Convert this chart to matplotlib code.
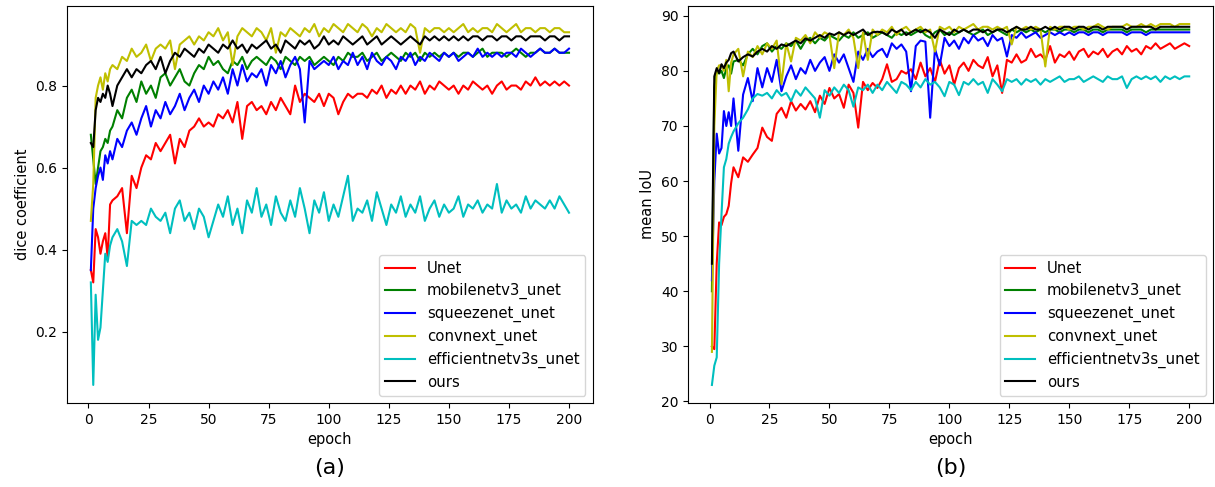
import matplotlib
matplotlib.use("Agg")
import matplotlib.pyplot as plt

# epochs sampled (every epoch at the start, then every second epoch)
epochs = [1, 2, 3, 4, 5, 6, 7, 8, 9, 10] + list(range(12, 201, 2))

names = ["Unet", "mobilenetv3_unet", "squeezenet_unet", "convnext_unet",
         "efficientnetv3s_unet", "ours"]
colors = ["r", "g", "b", "y", "c", "k"]

# (a) dice coefficient
dice_unet = [0.35, 0.32, 0.45, 0.43, 0.39, 0.42, 0.44, 0.38, 0.51, 0.52,
             0.53, 0.55, 0.44, 0.58, 0.55, 0.60, 0.63, 0.62, 0.66, 0.64,
             0.66, 0.68, 0.61, 0.67, 0.65, 0.69, 0.70, 0.72, 0.70, 0.71,
             0.70, 0.73, 0.72, 0.74, 0.71, 0.76, 0.67, 0.75, 0.76, 0.74,
             0.75, 0.73, 0.76, 0.74, 0.77, 0.75, 0.73, 0.80, 0.76, 0.78,
             0.77, 0.76, 0.78, 0.75, 0.78, 0.77, 0.73, 0.76, 0.78, 0.77,
             0.78, 0.78, 0.77, 0.79, 0.78, 0.80, 0.77, 0.79, 0.78, 0.80,
             0.78, 0.80, 0.79, 0.81, 0.78, 0.80, 0.79, 0.81, 0.80, 0.79,
             0.80, 0.78, 0.80, 0.79, 0.81, 0.80, 0.79, 0.80, 0.78, 0.80,
             0.81, 0.79, 0.80, 0.80, 0.79, 0.81, 0.80, 0.82, 0.80, 0.81,
             0.80, 0.81, 0.80, 0.81, 0.80]
dice_mobile = [0.68, 0.62, 0.56, 0.60, 0.64, 0.65, 0.67, 0.66, 0.69, 0.70,
               0.74, 0.72, 0.77, 0.79, 0.76, 0.81, 0.78, 0.80, 0.77, 0.82,
               0.83, 0.80, 0.82, 0.84, 0.81, 0.80, 0.83, 0.85, 0.84, 0.87,
               0.85, 0.86, 0.84, 0.83, 0.86, 0.85, 0.87, 0.84, 0.86, 0.87,
               0.86, 0.85, 0.87, 0.86, 0.84, 0.87, 0.86, 0.85, 0.87, 0.86,
               0.87, 0.85, 0.86, 0.87, 0.86, 0.85, 0.87, 0.86, 0.88, 0.87,
               0.87, 0.88, 0.86, 0.87, 0.88, 0.86, 0.87, 0.88, 0.87, 0.86,
               0.88, 0.87, 0.88, 0.86, 0.88, 0.87, 0.88, 0.87, 0.88, 0.87,
               0.88, 0.87, 0.88, 0.88, 0.87, 0.88, 0.89, 0.87, 0.88, 0.88,
               0.88, 0.87, 0.88, 0.89, 0.88, 0.87, 0.88, 0.88, 0.89, 0.88,
               0.88, 0.89, 0.88, 0.88, 0.88]
dice_squeeze = [0.35, 0.50, 0.55, 0.58, 0.60, 0.57, 0.63, 0.61, 0.64, 0.62,
                0.67, 0.65, 0.69, 0.71, 0.68, 0.72, 0.75, 0.70, 0.74, 0.72,
                0.76, 0.73, 0.75, 0.78, 0.74, 0.77, 0.79, 0.76, 0.80, 0.78,
                0.81, 0.79, 0.82, 0.78, 0.84, 0.80, 0.85, 0.81, 0.83, 0.82,
                0.84, 0.80, 0.85, 0.83, 0.86, 0.82, 0.85, 0.87, 0.84, 0.71,
                0.86, 0.84, 0.85, 0.86, 0.85, 0.87, 0.84, 0.86, 0.85, 0.88,
                0.85, 0.87, 0.84, 0.88, 0.86, 0.85, 0.87, 0.86, 0.84, 0.87,
                0.86, 0.88, 0.85, 0.87, 0.86, 0.88, 0.87, 0.86, 0.88, 0.87,
                0.88, 0.86, 0.87, 0.88, 0.87, 0.89, 0.87, 0.88, 0.87, 0.88,
                0.87, 0.88, 0.88, 0.87, 0.89, 0.88, 0.87, 0.88, 0.89, 0.88,
                0.88, 0.89, 0.88, 0.88, 0.89]
dice_convnext = [0.47, 0.56, 0.77, 0.80, 0.82, 0.79, 0.83, 0.81, 0.84, 0.85,
                 0.84, 0.87, 0.86, 0.89, 0.87, 0.88, 0.90, 0.86, 0.89, 0.90,
                 0.89, 0.91, 0.84, 0.90, 0.91, 0.92, 0.90, 0.92, 0.91, 0.93,
                 0.92, 0.94, 0.91, 0.93, 0.85, 0.92, 0.94, 0.93, 0.92, 0.94,
                 0.93, 0.91, 0.94, 0.88, 0.93, 0.92, 0.94, 0.93, 0.92, 0.94,
                 0.93, 0.95, 0.92, 0.94, 0.93, 0.95, 0.94, 0.93, 0.95, 0.94,
                 0.93, 0.95, 0.94, 0.92, 0.94, 0.93, 0.95, 0.94, 0.93, 0.94,
                 0.93, 0.95, 0.94, 0.88, 0.94, 0.93, 0.94, 0.94, 0.93, 0.94,
                 0.93, 0.94, 0.95, 0.93, 0.94, 0.93, 0.94, 0.94, 0.93, 0.95,
                 0.94, 0.93, 0.94, 0.95, 0.93, 0.94, 0.94, 0.93, 0.94, 0.94,
                 0.93, 0.94, 0.94, 0.93, 0.93]
dice_effnet = [0.32, 0.07, 0.29, 0.18, 0.21, 0.30, 0.39, 0.37, 0.41, 0.43,
               0.45, 0.42, 0.36, 0.47, 0.46, 0.47, 0.46, 0.50, 0.48, 0.47,
               0.49, 0.44, 0.50, 0.52, 0.47, 0.49, 0.45, 0.50, 0.48, 0.43,
               0.47, 0.51, 0.48, 0.53, 0.46, 0.50, 0.44, 0.52, 0.49, 0.55,
               0.48, 0.51, 0.46, 0.53, 0.49, 0.47, 0.52, 0.48, 0.55, 0.50,
               0.44, 0.52, 0.49, 0.54, 0.47, 0.51, 0.48, 0.53, 0.58, 0.47,
               0.50, 0.49, 0.52, 0.47, 0.54, 0.50, 0.46, 0.51, 0.49, 0.53,
               0.48, 0.51, 0.49, 0.53, 0.47, 0.50, 0.52, 0.48, 0.51, 0.49,
               0.50, 0.53, 0.48, 0.51, 0.50, 0.52, 0.49, 0.51, 0.50, 0.56,
               0.49, 0.52, 0.50, 0.51, 0.49, 0.53, 0.50, 0.52, 0.51, 0.50,
               0.52, 0.50, 0.53, 0.51, 0.49]
dice_ours = [0.66, 0.65, 0.74, 0.77, 0.76, 0.78, 0.77, 0.80, 0.78, 0.75,
             0.80, 0.82, 0.84, 0.82, 0.84, 0.83, 0.85, 0.86, 0.84, 0.87,
             0.83, 0.86, 0.88, 0.87, 0.89, 0.88, 0.87, 0.89, 0.88, 0.90,
             0.89, 0.88, 0.90, 0.89, 0.91, 0.89, 0.90, 0.88, 0.90, 0.89,
             0.90, 0.91, 0.89, 0.90, 0.88, 0.91, 0.90, 0.89, 0.91, 0.90,
             0.91, 0.89, 0.90, 0.92, 0.90, 0.91, 0.90, 0.92, 0.91, 0.90,
             0.91, 0.92, 0.90, 0.91, 0.92, 0.90, 0.91, 0.92, 0.91, 0.90,
             0.91, 0.92, 0.91, 0.90, 0.92, 0.91, 0.92, 0.91, 0.92, 0.91,
             0.92, 0.91, 0.92, 0.91, 0.92, 0.92, 0.91, 0.92, 0.92, 0.91,
             0.92, 0.92, 0.91, 0.92, 0.92, 0.91, 0.92, 0.92, 0.92, 0.91,
             0.92, 0.92, 0.91, 0.92, 0.92]

# (b) mean IoU
iou_unet = [30.0, 29.5, 45.0, 52.5, 52.0, 53.5, 54.0, 55.5, 59.6, 62.5,
            60.7, 64.3, 63.5, 64.8, 66.0, 69.7, 68.0, 67.3, 72.2, 73.3,
            71.5, 74.5, 72.8, 74.0, 73.0, 74.5, 72.5, 75.5, 74.0, 76.9,
            75.0, 75.8, 73.3, 77.5, 76.0, 69.7, 78.0, 76.5, 77.8, 76.9,
            78.5, 81.2, 78.0, 78.5, 80.0, 79.5, 80.3, 78.5, 81.5, 79.0,
            80.5, 78.0, 82.0, 79.5, 81.0, 77.5, 80.5, 81.5, 80.0, 82.0,
            81.0, 80.5, 82.5, 79.0, 81.0, 76.0, 82.0, 81.5, 83.0, 81.5,
            82.0, 84.0, 82.5, 83.0, 82.0, 84.5, 81.5, 83.0, 82.5, 83.5,
            82.0, 83.5, 84.0, 82.5, 83.5, 83.0, 84.0, 82.5, 83.5, 84.0,
            83.0, 84.5, 83.5, 84.0, 83.0, 84.5, 84.0, 85.0, 84.0, 84.5,
            85.0, 84.0, 84.5, 85.0, 84.5]
iou_mobile = [40.0, 77.0, 80.0, 79.5, 80.0, 78.7, 80.5, 81.0, 79.5, 81.7,
              82.0, 81.0, 83.0, 84.0, 83.0, 84.5, 85.0, 83.5, 84.5, 84.0,
              85.0, 84.5, 85.5, 84.0, 85.5, 86.0, 85.0, 86.0, 85.5, 86.5,
              86.0, 85.5, 86.5, 86.0, 87.0, 86.0, 86.5, 87.0, 86.0, 86.5,
              87.0, 86.5, 86.0, 87.0, 86.5, 87.0, 86.5, 87.0, 87.5, 86.5,
              86.0, 87.0, 87.5, 86.5, 87.0, 86.5, 87.0, 87.5, 87.0, 86.5,
              87.0, 87.5, 86.5, 87.0, 87.5, 87.0, 86.5, 87.5, 87.0, 87.5,
              87.0, 87.5, 87.0, 87.5, 87.0, 87.5, 87.5, 87.0, 87.5, 87.5,
              87.0, 87.5, 87.5, 87.0, 87.5, 87.5, 87.0, 87.5, 87.5, 87.5,
              87.5, 87.0, 87.5, 87.5, 87.5, 87.0, 87.5, 87.5, 87.5, 87.5,
              87.5, 87.5, 87.5, 87.5, 87.5]
iou_squeeze = [42.0, 60.0, 68.6, 65.0, 66.0, 72.7, 70.0, 72.5, 70.0, 75.0,
               65.5, 75.7, 78.7, 74.5, 80.5, 77.0, 80.5, 78.0, 82.0, 76.3,
               79.0, 81.0, 78.5, 80.5, 79.5, 82.0, 80.0, 81.5, 82.5, 80.0,
               83.0, 81.5, 83.0, 80.5, 78.0, 83.5, 82.0, 84.0, 82.5, 83.5,
               84.0, 82.5, 85.0, 84.0, 84.8, 83.5, 76.3, 84.5, 85.5, 85.3,
               71.5, 84.0, 81.0, 86.0, 84.5, 85.5, 84.0, 86.0, 85.0, 86.5,
               85.5, 86.0, 84.5, 86.5, 85.5, 86.0, 82.6, 86.5, 86.0, 87.0,
               86.0, 86.5, 87.0, 86.0, 86.5, 87.0, 86.5, 87.0, 86.5, 87.0,
               86.5, 87.0, 87.0, 86.5, 87.0, 87.0, 86.5, 87.0, 87.0, 87.0,
               87.0, 86.5, 87.0, 87.0, 87.0, 86.5, 87.0, 87.0, 87.0, 87.0,
               87.0, 87.0, 87.0, 87.0, 87.0]
iou_convnext = [29.0, 70.0, 80.0, 81.0, 81.0, 80.0, 82.0, 76.3, 81.5, 83.0,
                84.0, 79.0, 83.5, 82.5, 84.5, 83.0, 85.0, 84.0, 85.5, 77.6,
                85.0, 81.7, 86.0, 85.5, 86.5, 85.0, 87.0, 86.0, 87.0, 86.5,
                80.5, 87.0, 86.5, 87.5, 86.0, 80.5, 87.0, 82.0, 87.5, 86.5,
                87.5, 87.0, 88.0, 86.5, 87.5, 88.0, 87.0, 87.5, 88.0, 87.0,
                87.5, 83.5, 88.0, 87.5, 88.0, 87.0, 88.0, 87.5, 88.0, 88.5,
                87.5, 88.0, 88.0, 87.5, 88.0, 87.5, 88.0, 84.8, 88.0, 87.5,
                88.0, 87.5, 88.0, 87.5, 80.8, 88.0, 87.5, 88.0, 88.0, 87.5,
                88.0, 88.0, 87.5, 88.0, 88.0, 88.5, 88.0, 87.5, 88.0, 88.0,
                88.0, 88.5, 88.0, 88.0, 88.5, 88.0, 88.5, 88.0, 88.5, 88.5,
                88.5, 88.0, 88.5, 88.5, 88.5]
iou_effnet = [23.0, 26.5, 28.0, 45.0, 54.0, 62.5, 64.0, 66.8, 68.0, 69.0,
              70.5, 71.5, 73.0, 75.0, 75.8, 75.5, 76.0, 75.0, 76.5, 75.5,
              76.0, 74.5, 76.5, 75.5, 77.0, 76.0, 75.0, 71.5, 76.5, 75.5,
              77.0, 76.0, 77.5, 76.5, 73.5, 77.0, 76.5, 77.5, 76.0, 77.5,
              76.5, 78.0, 77.0, 76.0, 78.0, 77.5, 76.5, 78.0, 77.0, 78.5,
              77.5, 78.0, 77.0, 75.4, 78.0, 77.5, 75.6, 78.0, 77.5, 78.5,
              77.5, 78.0, 76.0, 78.5, 77.5, 76.3, 78.5, 78.0, 78.5, 77.5,
              78.5, 78.0, 78.5, 77.5, 78.5, 78.0, 78.5, 79.0, 78.0, 78.5,
              78.5, 79.0, 78.0, 78.5, 79.0, 78.5, 78.0, 79.0, 78.5, 78.5,
              79.0, 76.9, 78.5, 79.0, 78.5, 79.0, 78.5, 79.0, 78.0, 79.0,
              78.5, 79.0, 78.5, 79.0, 79.0]
iou_ours = [45.0, 79.0, 80.5, 79.6, 81.2, 80.5, 81.5, 82.0, 83.2, 83.5,
            81.7, 82.5, 83.0, 82.6, 83.5, 84.0, 83.5, 84.5, 84.0, 84.8,
            84.5, 85.0, 85.5, 85.0, 85.9, 85.5, 86.0, 86.5, 86.0, 86.8,
            86.5, 87.0, 86.5, 87.0, 86.5, 87.0, 87.5, 86.5, 87.0, 87.1,
            87.0, 86.5, 87.5, 87.0, 87.5, 86.5, 87.0, 87.5, 87.0, 87.5,
            87.0, 86.0, 87.5, 87.0, 86.5, 87.5, 87.0, 87.5, 87.0, 87.5,
            87.5, 87.0, 87.5, 87.0, 87.5, 87.5, 87.0, 87.5, 88.0, 87.5,
            87.5, 88.0, 87.5, 87.5, 88.0, 87.5, 88.0, 87.5, 88.0, 88.0,
            87.5, 88.0, 88.0, 87.5, 88.0, 88.0, 87.5, 88.0, 88.0, 88.0,
            88.0, 87.5, 88.0, 88.0, 88.0, 88.0, 88.0, 87.5, 88.0, 88.0,
            88.0, 88.0, 88.0, 88.0, 88.0]

dice = [dice_unet, dice_mobile, dice_squeeze, dice_convnext, dice_effnet, dice_ours]
iou = [iou_unet, iou_mobile, iou_squeeze, iou_convnext, iou_effnet, iou_ours]

fig = plt.figure(figsize=(12.15, 4.87), dpi=100)
ax1 = fig.add_axes([0.0551, 0.1725, 0.4329, 0.8152])
ax2 = fig.add_axes([0.5663, 0.1725, 0.4321, 0.8152])

for ax, series, ylab, tag in [(ax1, dice, "dice coefficient", "(a)"),
                              (ax2, iou, "mean IoU", "(b)")]:
    for name, col, vals in zip(names, colors, series):
        ax.plot(epochs, vals, color=col, lw=1.5, label=name)
    ax.set_xlabel("epoch", fontsize=10.5)
    ax.set_ylabel(ylab, fontsize=10.5)
    ax.tick_params(labelsize=10)
    ax.set_xticks([0, 25, 50, 75, 100, 125, 150, 175, 200])
    ax.legend(loc="lower right", fontsize=10.7, labelspacing=0.45)
    # panel tag under each axes
    x_mid = ax.get_position().x0 + ax.get_position().width / 2
    fig.text(x_mid, 0.039, tag, ha="center", va="center", fontsize=16)

fig.savefig("out.png", dpi=100)
